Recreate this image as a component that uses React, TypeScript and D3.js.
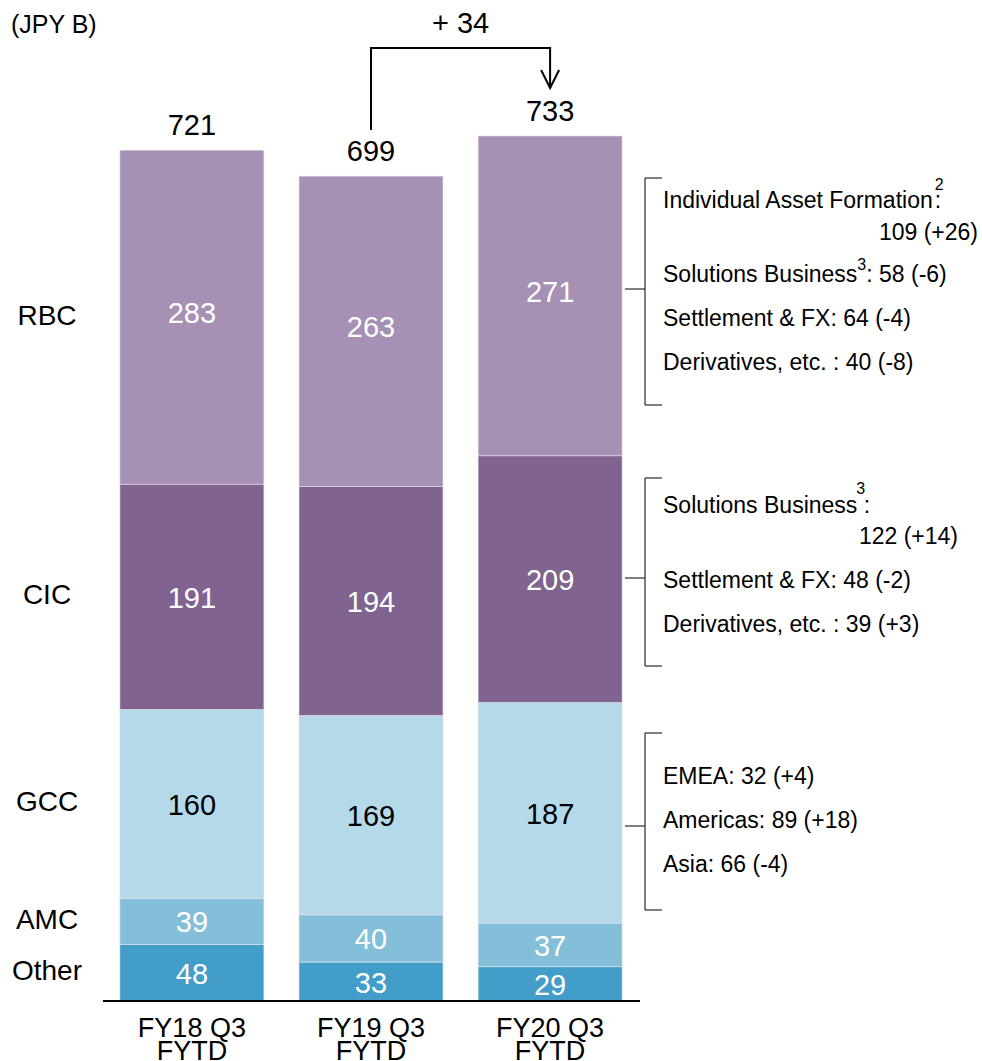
import React from "react";
import * as d3 from "d3";

const categories = ["FY18 Q3", "FY19 Q3", "FY20 Q3"];
const segments = ["Other", "AMC", "GCC", "CIC", "RBC"];
const otherVals = [48, 33, 29];
const amcVals = [39, 40, 37];
const gccVals = [160, 169, 187];
const cicVals = [191, 194, 209];
const rbcVals = [283, 263, 271];
const totals = [721, 699, 733];
const changeLabel = "+ 34";

const colors: Record<string, string> = {
  Other: "#439dc9",
  AMC: "#84bfd9",
  GCC: "#b4d9e8",
  CIC: "#80648f",
  RBC: "#a690b4",
};
const labelColors: Record<string, string> = {
  Other: "#ffffff",
  AMC: "#ffffff",
  GCC: "#000000",
  CIC: "#ffffff",
  RBC: "#ffffff",
};

const FONT = "'Liberation Sans', Arial, sans-serif";

export default function App() {
  const W = 982;
  const H = 1061;
  const baseY = 1001;
  const valuesBySeg: Record<string, number[]> = {
    Other: otherVals,
    AMC: amcVals,
    GCC: gccVals,
    CIC: cicVals,
    RBC: rbcVals,
  };
  const rows = categories.map((c, i) => {
    const r: any = { cat: c };
    segments.forEach((s) => (r[s] = valuesBySeg[s][i]));
    return r;
  });
  const stack = d3.stack<any>().keys(segments)(rows);

  const x = d3
    .scaleBand<string>()
    .domain(categories)
    .range([102, 640])
    .paddingInner(0.196)
    .paddingOuter(0.1);
  const y = d3.scaleLinear().domain([0, 733]).range([baseY, 136]);
  const bw = x.bandwidth();
  const cx = (i: number) => (x(categories[i]) as number) + bw / 2;

  const arrowTopY = 48;
  const leftX = cx(1);
  const rightX = cx(2);

  const bracket = (top: number, bottom: number, tick: number, key: string) => (
    <g key={key} stroke="#000" strokeWidth={1} fill="none">
      <path d={`M662,${top}H645V${bottom}H662`} />
      <path d={`M625,${tick}H645`} />
    </g>
  );

  const annStyle = { fontFamily: FONT, fontSize: 23, fill: "#000" } as any;

  return (
    <svg width={W} height={H} style={{ position: "absolute", left: 0, top: 0 }}>
      <rect width={W} height={H} fill="#fff" />
      <text x={11} y={33} style={{ fontFamily: FONT, fontSize: 25 }}>
        (JPY B)
      </text>

      {stack.map((layer) => (
        <g key={layer.key}>
          {layer.map((d, i) => (
            <rect
              key={i}
              x={x(categories[i])}
              y={y(d[1])}
              width={bw}
              height={y(d[0]) - y(d[1])}
              fill={colors[layer.key]}
              stroke="#e6e0ec"
              strokeWidth={0.6}
            />
          ))}
          {layer.map((d, i) => (
            <text
              key={"t" + i}
              x={cx(i)}
              y={(y(d[0]) + y(d[1])) / 2 + (layer.key === "RBC" ? -4 : 1)}
              textAnchor="middle"
              dominantBaseline="central"
              style={{ fontFamily: FONT, fontSize: 29, fill: labelColors[layer.key] }}
            >
              {d[1] - d[0]}
            </text>
          ))}
          <text
            x={47}
            y={(y(layer[0][0]) + y(layer[0][1])) / 2 - 2}
            textAnchor="middle"
            dominantBaseline="central"
            style={{ fontFamily: FONT, fontSize: 28, fill: "#000" }}
          >
            {layer.key}
          </text>
        </g>
      ))}

      {totals.map((t, i) => (
        <text
          key={i}
          x={cx(i)}
          y={y(t) - 15}
          textAnchor="middle"
          style={{ fontFamily: FONT, fontSize: 29, fill: "#000" }}
        >
          {t}
        </text>
      ))}

      <line x1={103} x2={640} y1={baseY} y2={baseY} stroke="#000" strokeWidth={2} />

      {categories.map((c, i) => (
        <text
          key={c}
          x={cx(i)}
          textAnchor="middle"
          style={{ fontFamily: FONT, fontSize: 27, fill: "#000" }}
        >
          <tspan x={cx(i)} y={1037}>{c}</tspan>
          <tspan x={cx(i)} y={1060}>FYTD</tspan>
        </text>
      ))}

      {/* change arrow */}
      <path
        d={`M${leftX},${y(totals[1]) - 46}V${arrowTopY}H${rightX}V${y(totals[2]) - 48}`}
        fill="none"
        stroke="#000"
        strokeWidth={2}
      />
      <path
        d={`M${rightX - 9},${y(totals[2]) - 66}L${rightX},${y(totals[2]) - 48}L${rightX + 9},${y(totals[2]) - 66}`}
        fill="none"
        stroke="#000"
        strokeWidth={2}
      />
      <text
        x={(leftX + rightX) / 2}
        y={33}
        textAnchor="middle"
        style={{ fontFamily: FONT, fontSize: 29, fill: "#000" }}
      >
        {changeLabel}
      </text>

      {/* RBC breakdown */}
      {bracket(178, 405, 289, "b1")}
      <text x={663} y={208} style={annStyle}>
        Individual Asset Formation
        <tspan dx={2} dy={-18} fontSize={16}>2</tspan>
        <tspan dx={-9} dy={18}>:</tspan>
      </text>
      <text x={978} y={240} textAnchor="end" style={annStyle}>109 (+26)</text>
      <text x={663} y={282} style={annStyle}>
        Solutions Business
        <tspan dy={-12} fontSize={16}>3</tspan>
        <tspan dy={12}>: 58 (-6)</tspan>
      </text>
      <text x={663} y={326} style={annStyle}>Settlement &amp; FX: 64 (-4)</text>
      <text x={663} y={370} style={annStyle}>Derivatives, etc. : 40 (-8)</text>

      {/* CIC breakdown */}
      {bracket(478, 666, 578, "b2")}
      <text x={663} y={513} style={annStyle}>
        Solutions Business
        <tspan dx={-1} dy={-19} fontSize={16}>3</tspan>
        <tspan dx={-8} dy={19}> :</tspan>
      </text>
      <text x={958} y={544} textAnchor="end" style={annStyle}>122 (+14)</text>
      <text x={663} y={588} style={annStyle}>Settlement &amp; FX: 48 (-2)</text>
      <text x={663} y={632} style={annStyle}>Derivatives, etc. : 39 (+3)</text>

      {/* GCC breakdown */}
      {bracket(733, 910, 826, "b3")}
      <text x={663} y={784} style={annStyle}>EMEA: 32 (+4)</text>
      <text x={663} y={828} style={annStyle}>Americas: 89 (+18)</text>
      <text x={663} y={872} style={annStyle}>Asia: 66 (-4)</text>
    </svg>
  );
}
